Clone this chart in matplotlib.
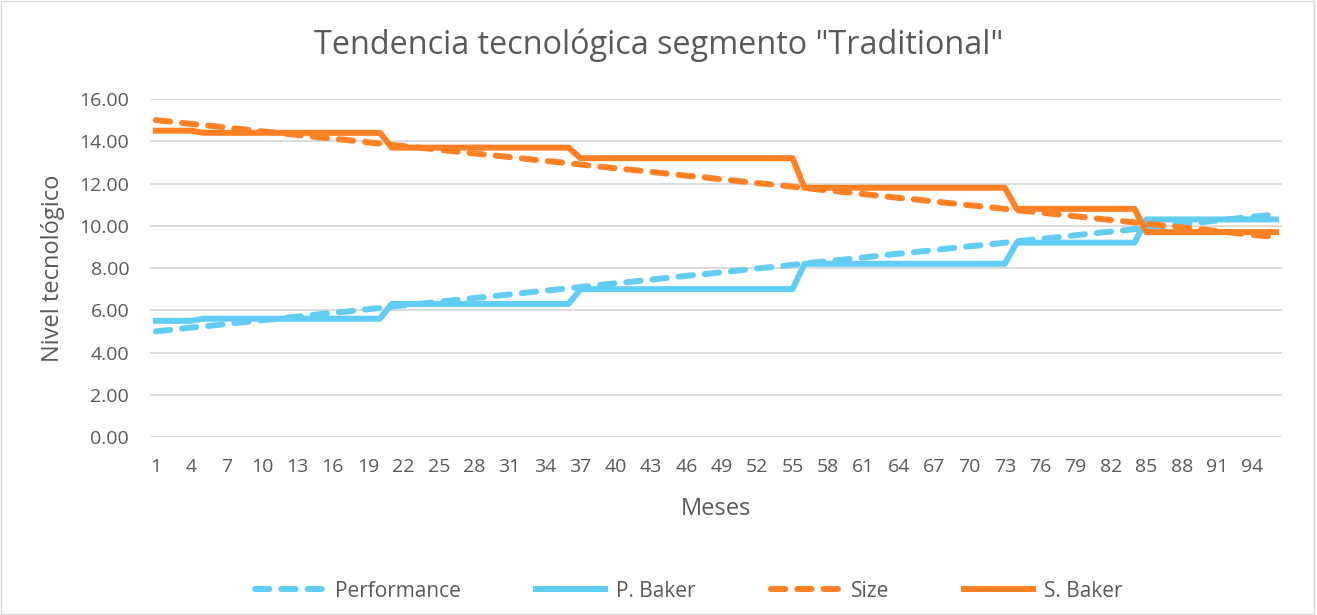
import matplotlib.pyplot as plt
from matplotlib.patches import Rectangle

plt.rcParams['font.family'] = ['Open Sans', 'DejaVu Sans']

# Meses 1..96
meses = list(range(1, 97))

# Tendencia del segmento
performance = [
    5.00, 5.06, 5.12, 5.18, 5.23, 5.29, 5.35, 5.41, 5.47, 5.53, 5.58, 5.64,
    5.70, 5.76, 5.82, 5.88, 5.93, 5.99, 6.05, 6.11, 6.17, 6.23, 6.28, 6.34,
    6.40, 6.46, 6.52, 6.58, 6.63, 6.69, 6.75, 6.81, 6.87, 6.93, 6.98, 7.04,
    7.10, 7.16, 7.22, 7.28, 7.33, 7.39, 7.45, 7.51, 7.57, 7.63, 7.68, 7.74,
    7.80, 7.86, 7.92, 7.98, 8.03, 8.09, 8.15, 8.21, 8.27, 8.33, 8.38, 8.44,
    8.50, 8.56, 8.62, 8.68, 8.73, 8.79, 8.85, 8.91, 8.97, 9.03, 9.08, 9.14,
    9.20, 9.26, 9.32, 9.38, 9.43, 9.49, 9.55, 9.61, 9.67, 9.73, 9.78, 9.84,
    9.90, 9.96, 10.02, 10.08, 10.13, 10.19, 10.25, 10.31, 10.37, 10.43, 10.48, 10.54,
]
size = [
    15.00, 14.94, 14.88, 14.82, 14.77, 14.71, 14.65, 14.59, 14.53, 14.47, 14.42, 14.36,
    14.30, 14.24, 14.18, 14.12, 14.07, 14.01, 13.95, 13.89, 13.83, 13.77, 13.72, 13.66,
    13.60, 13.54, 13.48, 13.42, 13.37, 13.31, 13.25, 13.19, 13.13, 13.07, 13.02, 12.96,
    12.90, 12.84, 12.78, 12.72, 12.67, 12.61, 12.55, 12.49, 12.43, 12.37, 12.32, 12.26,
    12.20, 12.14, 12.08, 12.02, 11.97, 11.91, 11.85, 11.79, 11.73, 11.67, 11.62, 11.56,
    11.50, 11.44, 11.38, 11.32, 11.27, 11.21, 11.15, 11.09, 11.03, 10.97, 10.92, 10.86,
    10.80, 10.74, 10.68, 10.62, 10.57, 10.51, 10.45, 10.39, 10.33, 10.27, 10.22, 10.16,
    10.10, 10.04, 9.98, 9.92, 9.87, 9.81, 9.75, 9.69, 9.63, 9.57, 9.52, 9.46,
]

# Producto Baker (escalones)
p_baker = ([5.5] * 4 + [5.6] * 16 + [6.3] * 16 + [7.0] * 19 +
           [8.2] * 18 + [9.2] * 11 + [10.3] * 12)
s_baker = ([14.5] * 4 + [14.4] * 16 + [13.7] * 16 + [13.2] * 19 +
           [11.8] * 18 + [10.8] * 11 + [9.7] * 12)

azul = '#62CDF3'
naranja = '#FF8124'
gris = '#595959'

fig = plt.figure(figsize=(13.17, 6.15), dpi=100)
ax = fig.add_axes([0.1139, 0.2894, 0.8595, 0.5496])

lw = 4.3
ax.plot(meses, performance, color=azul, lw=lw, dashes=(2.4, 2.0),
        dash_capstyle='round', label='Performance')
ax.plot(meses, p_baker, color=azul, lw=lw, solid_joinstyle='round', label='P. Baker')
ax.plot(meses, size, color=naranja, lw=lw, dashes=(2.4, 2.0),
        dash_capstyle='round', label='Size')
ax.plot(meses, s_baker, color=naranja, lw=lw, solid_joinstyle='round', label='S. Baker')

ax.set_xlim(0.5, 96.5)
ax.set_ylim(0, 16)
ax.set_yticks(range(0, 17, 2))
ax.set_yticklabels([f'{v:.2f}' for v in range(0, 17, 2)])
ax.set_xticks(meses[::3])
ax.set_xticklabels([str(m) for m in meses[::3]])
ax.tick_params(length=0, labelsize=14, colors=gris)
ax.tick_params(axis='x', pad=15)
ax.tick_params(axis='y', pad=15)
ax.grid(axis='y', color='#D9D9D9', lw=1.3)
ax.set_axisbelow(True)
for s in ax.spines.values():
    s.set_visible(False)

ax.set_xlabel('Meses', fontsize=17, color=gris)
ax.xaxis.set_label_coords(0.5, -0.177)
ax.set_ylabel('Nivel tecnológico', fontsize=17, color=gris)
ax.yaxis.set_label_coords(-0.075, 0.5)
fig.text(0.5, 0.927, 'Tendencia tecnológica segmento "Traditional"', fontsize=23.3,
         color=gris, ha='center', va='center')

fig.legend(loc='center', bbox_to_anchor=(0.523, 0.039), ncol=4, frameon=False,
           fontsize=15, handlelength=3.3, columnspacing=3.6, handletextpad=0.55,
           labelcolor=gris)

fig.patches.append(Rectangle((0.001, 0.001), 0.997, 0.997, transform=fig.transFigure,
                             fill=False, edgecolor='#D9D9D9', lw=1))

fig.savefig('out.png', dpi=100)
